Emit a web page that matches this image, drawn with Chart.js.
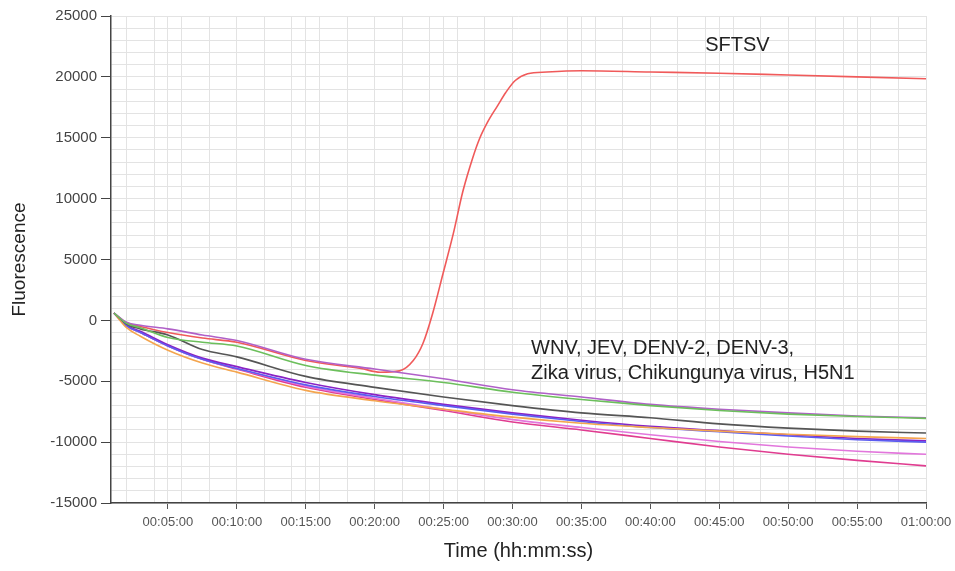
<!DOCTYPE html>
<html>
<head>
<meta charset="utf-8">
<script src="https://cdn.jsdelivr.net/npm/chart.js@4.4.0/dist/chart.umd.min.js"></script>
<style>
    html, body { margin: 0; padding: 0; background: #fff; }
</style>
</head>
<body>
<canvas id="myChart" width="955" height="571"></canvas>
<script>
// time axis in minutes
const timeMin = [1.09, 2, 3, 5, 7.5, 10, 15, 20, 25, 30, 35, 40, 45, 50, 55, 60];

// negative samples (by line colour)
const violetLine = [600, -150, -400, -700, -1200, -1650, -3200, -4000, -4800, -5700, -6300, -6900, -7300, -7600, -7850, -8000];
const greenLine = [600, -250, -600, -1400, -1800, -2100, -3700, -4500, -5100, -5900, -6500, -7000, -7400, -7700, -7900, -8050];
const greyLine = [600, -300, -700, -1200, -2400, -3000, -4600, -5500, -6300, -7000, -7600, -8000, -8500, -8850, -9100, -9250];
const purpleLine = [600, -400, -900, -2000, -3100, -3800, -5100, -6100, -6900, -7600, -8200, -8700, -9050, -9400, -9700, -9900];
const blueLine = [600, -450, -1000, -2100, -3200, -3950, -5300, -6250, -7000, -7700, -8300, -8800, -9150, -9500, -9800, -10000];
const orangeLine = [600, -600, -1300, -2450, -3500, -4250, -5750, -6600, -7300, -7950, -8450, -8800, -9100, -9350, -9550, -9700];
const pinkLine = [600, -450, -1000, -2100, -3200, -3950, -5400, -6400, -7300, -8150, -8800, -9400, -9950, -10400, -10750, -11000];
const magentaLine = [600, -450, -1000, -2100, -3200, -4000, -5500, -6500, -7400, -8350, -9000, -9700, -10400, -11000, -11500, -11950];

// SFTSV (positive)
const sftsvTime = [1.09, 2, 3, 5, 7.5, 10, 15, 19, 20.4, 21.8, 22.8, 23.5, 24.2, 24.96, 25.7, 26.4, 27.1, 27.6, 28.2, 28.9, 29.5, 30.2, 31.1, 32.5, 35, 40, 45, 50, 55, 60];
const sftsv = [600, -200, -500, -1000, -1450, -1800, -3300, -3950, -4260, -4150, -3300, -1900, 550, 3850, 7100, 10600, 13300, 14900, 16300, 17600, 18700, 19700, 20250, 20400, 20500, 20400, 20300, 20150, 20000, 19850];

// tick labels
const xTickMinutes = [5, 10, 15, 20, 25, 30, 35, 40, 45, 50, 55, 60];
const xTickLabels = ["00:05:00", "00:10:00", "00:15:00", "00:20:00", "00:25:00", "00:30:00",
    "00:35:00", "00:40:00", "00:45:00", "00:50:00", "00:55:00", "01:00:00"];
const yTickValues = [-15000, -10000, -5000, 0, 5000, 10000, 15000, 20000, 25000];

// text notes on the plot
const noteSftsv = "SFTSV";
const noteNegatives = ["WNV, JEV, DENV-2, DENV-3,", "Zika virus, Chikungunya virus, H5N1"];

const FONT = "'Liberation Sans', Arial, sans-serif";

// vertical grid every 2 min plus every 5 min
const gridMinutes = [];
for (let m = 1; m <= 60; m++) {
    if (m % 2 === 0 || m % 5 === 0) gridMinutes.push(m);
}

function toPoints(xs, ys) {
    return xs.map((x, i) => ({ x: x, y: ys[i] }));
}

function line(data, color) {
    return {
        data: data,
        borderColor: color,
        backgroundColor: color,
        borderWidth: 1.6,
        pointRadius: 0,
        cubicInterpolationMode: "monotone",
        fill: false
    };
}

const datasets = [
    line(toPoints(timeMin, greenLine), "#6cbf5c"),
    line(toPoints(timeMin, violetLine), "#b060c8"),
    line(toPoints(timeMin, greyLine), "#555555"),
    line(toPoints(timeMin, orangeLine), "#f4a54e"),
    line(toPoints(timeMin, blueLine), "#5b5cf0"),
    line(toPoints(timeMin, purpleLine), "#8a22c4"),
    line(toPoints(timeMin, pinkLine), "#e276dc"),
    line(toPoints(timeMin, magentaLine), "#e03c90"),
    line(toPoints(sftsvTime, sftsv), "#f05a5a")
];

const notesPlugin = {
    id: "notes",
    afterDatasetsDraw(chart) {
        const ctx = chart.ctx;
        const x = chart.scales.x;
        const y = chart.scales.y;
        ctx.save();
        ctx.fillStyle = "#222";
        ctx.font = "20px " + FONT;
        ctx.textBaseline = "middle";
        ctx.textAlign = "left";
        ctx.fillText(noteSftsv, x.getPixelForValue(43.98), y.getPixelForValue(22540));
        ctx.fillText(noteNegatives[0], x.getPixelForValue(31.35), y.getPixelForValue(-2300));
        ctx.fillText(noteNegatives[1], x.getPixelForValue(31.35), y.getPixelForValue(-4340));
        ctx.restore();
    }
};

const config = {
    type: "line",
    data: { datasets: datasets },
    options: {
        responsive: false,
        animation: false,
        devicePixelRatio: 1,
        layout: { padding: { top: 16, right: 29, left: 0, bottom: 0 } },
        plugins: {
            legend: { display: false },
            tooltip: { enabled: false }
        },
        scales: {
            x: {
                type: "linear",
                min: 0.87,
                max: 60,
                afterBuildTicks: (scale) => {
                    scale.ticks = gridMinutes.map(v => ({ value: v }));
                },
                afterFit: (scale) => {
                    scale.height = 68;
                    scale.paddingRight = 0;
                },
                grid: {
                    color: "#e3e3e3",
                    tickLength: 6,
                    tickColor: (c) => (c.tick && xTickMinutes.includes(c.tick.value)) ? "#555" : "rgba(0,0,0,0)"
                },
                border: { color: "#444", width: 1.5 },
                ticks: {
                    autoSkip: false,
                    maxRotation: 0,
                    padding: 6,
                    color: "#555",
                    font: { family: FONT, size: 13 },
                    callback: (v) => {
                        const i = xTickMinutes.indexOf(v);
                        return i >= 0 ? xTickLabels[i] : "";
                    }
                },
                title: {
                    display: true,
                    text: "Time (hh:mm:ss)",
                    color: "#222",
                    font: { family: FONT, size: 20 },
                    padding: { top: 0, bottom: 8 }
                }
            },
            y: {
                min: -15000,
                max: 25000,
                afterFit: (scale) => { scale.width = 111; },
                grid: {
                    color: "#e3e3e3",
                    tickLength: 10,
                    tickColor: (c) => (c.tick && yTickValues.includes(c.tick.value)) ? "#444" : "rgba(0,0,0,0)"
                },
                border: { color: "#444", width: 1.5 },
                ticks: {
                    stepSize: 1000,
                    autoSkip: false,
                    padding: 4,
                    color: "#444",
                    font: { family: FONT, size: 15 },
                    callback: (v) => yTickValues.includes(v) ? String(v) : ""
                },
                title: {
                    display: true,
                    text: "Fluorescence",
                    color: "#222",
                    font: { family: FONT, size: 19 },
                    padding: { top: 8, bottom: 0 }
                }
            }
        }
    },
    plugins: [notesPlugin]
};

new Chart(document.getElementById("myChart"), config);
</script>
</body>
</html>
